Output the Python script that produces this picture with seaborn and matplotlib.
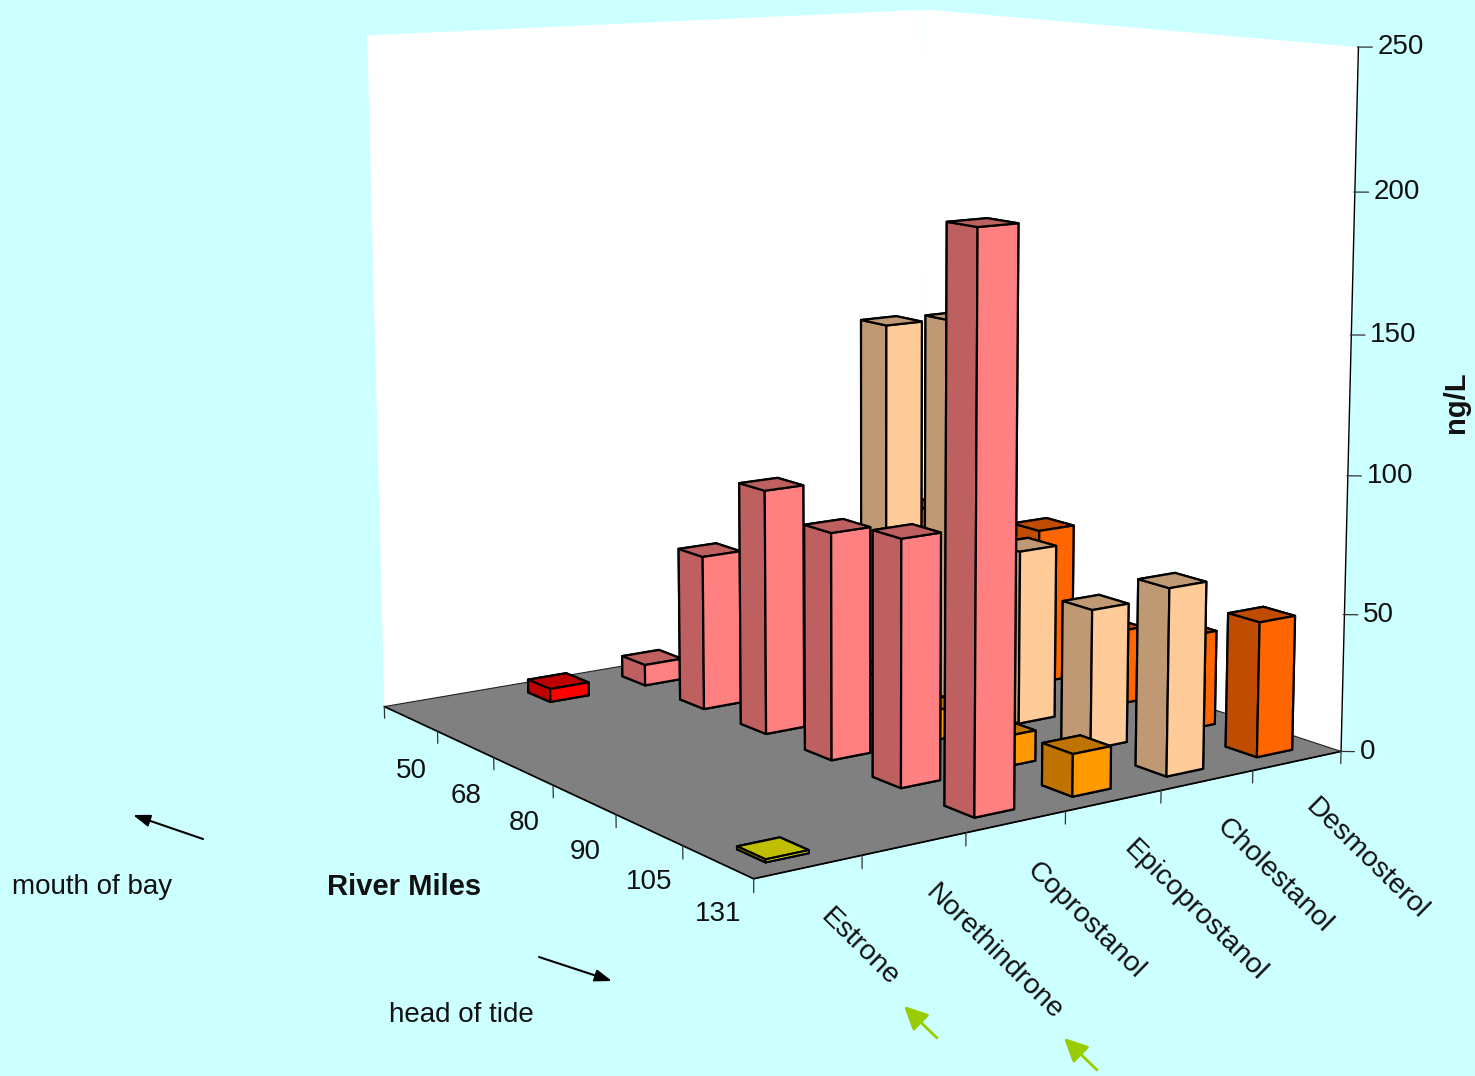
import numpy as np
import pandas as pd
import matplotlib
matplotlib.use("Agg")
import matplotlib.pyplot as plt
from mpl_toolkits.mplot3d import proj3d
import seaborn as sns

# Concentrations (ng/L) per compound, one list per river-mile station.
compounds = ["Estrone", "Norethindrone", "Coprostanol", "Epicoprostanol", "Cholestanol", "Desmosterol"]
river_miles = ["131", "105", "90", "80", "68", "50"]
mile_131 = [1, 0, 198, 15, 67, 49]
mile_105 = [0, 0, 87.5, 11, 51, 35]
mile_90 = [0, 0, 82, 11, 64.5, 28]
mile_80 = [0, 0, 90, 15, 144, 59.5]
mile_68 = [0, 0, 58, 0, 137, 50]
mile_50 = [0, 5, 8, 0, 0, 53]
z_ticks = [0, 50, 100, 150, 200, 250]

front_colors = ["#FFFF00", "#FF0000", "#FF8080", "#FF9900", "#FFCC99", "#FF6600"]
shade_colors = ["#BFBF00", "#BF0000", "#BF6060", "#BF7300", "#BF9973", "#BF4C00"]

table = pd.DataFrame([mile_131, mile_105, mile_90, mile_80, mile_68, mile_50],
                     index=river_miles, columns=compounds)

BG = "#CCFFFF"
W, H = 1475, 1076
sns.set_theme(style="white")
plt.rcParams["font.family"] = ["Liberation Sans", "DejaVu Sans"]

fig = plt.figure(figsize=(W / 100, H / 100), dpi=100, facecolor=BG)
ax = fig.add_subplot(projection="3d", computed_zorder=False)
ax.set_facecolor("none")

# Camera and placement of the chart box on the figure.
scale, cx, cy = 6347.58, 850.64, 390.86
view_lo, view_hi = -0.095, 0.09
side = scale * (view_hi - view_lo)
ax.set_position([(cx + scale * view_lo) / W, (H - (cy - scale * view_lo)) / H, side / W, side / H])
ax.view_init(elev=9.982, azim=-124.996, roll=0.061)
ax.set_proj_type("persp", focal_length=0.5374)
ax.set_box_aspect((1.0009, 1.0021, 1))
n_c, n_r = len(compounds), len(river_miles)
ax.set_xlim(0, n_c)
ax.set_ylim(0, n_r)
ax.set_zlim(0, z_ticks[-1])
ax.grid(False)
ax.set_xticks([])
ax.set_yticks([])
ax.set_zticks([])

# Walls and floor.
for axis, colour in [(ax.xaxis, "white"), (ax.yaxis, "white"), (ax.zaxis, "#808080")]:
    axis.set_pane_color(colour)
    axis.pane.set_edgecolor("none")
ax.zaxis.pane.set_edgecolor("#222222")
ax.zaxis.pane.set_linewidth(0.8)
ax.xaxis.line.set_color("black")
ax.yaxis.line.set_color("black")
ax.zaxis.line.set_color("none")

# Columns, painted from the far corner towards the viewer.
bar_w, bar_d = 0.40, 0.40
inset_c, inset_r = 0.295, 0.28
order = 10
for r in range(n_r - 1, -1, -1):
    for c in range(n_c - 1, -1, -1):
        value = table.iloc[r, c]
        if value <= 0:
            continue
        faces = [shade_colors[c], shade_colors[c], front_colors[c],
                 front_colors[c], shade_colors[c], shade_colors[c]]
        ax.bar3d(c + inset_c, r + inset_r, 0, bar_w, bar_d, value,
                 color=faces, shade=False, edgecolor="black", linewidth=1.6, zorder=order)
        order += 1

top = order + 1
tick_style = dict(color="#333333", lw=0.9, zorder=top)
text_style = dict(color="#111111", transform=ax.transData, zorder=top)
fs = 20
camera = ax.get_proj()


def box_label(x, y, z, text, **kwargs):
    """Write flat text at the page position of a point of the 3D box."""
    xv, yv, _ = proj3d.proj_transform(x, y, z, camera)
    return ax.text2D(xv, yv, text, **text_style, **kwargs)


# Floor ticks drop straight down; value ticks run level with the page.
for c in range(n_c + 1):
    ax.plot([c, c], [0, 0], [0, -4.5], **tick_style)
for r in range(1, n_r + 1):
    ax.plot([0, 0], [r, r], [0, -4.5], **tick_style)
ax.plot([n_c, n_c], [0, 0], [0, z_ticks[-1]], color="black", lw=1.0, zorder=top)
du, dv = 0.00683, 0.00541
for z in z_ticks:
    ax.plot([n_c - 1 * du, n_c + 13 * du], [1 * dv, -13 * dv], [z, z], **tick_style)
    box_label(n_c + 18 * du, -18 * dv, z, str(z), fontsize=fs, ha="left", va="center")

for r, mile in enumerate(river_miles):
    box_label(0, r + 0.5, -17.3 - 0.5 * r, mile, fontsize=fs, ha="center", va="center")

for c, name in enumerate(compounds):
    box_label(c + 0.65, 0, -16.5, name, fontsize=20.5, rotation=-44.5,
              rotation_mode="anchor", ha="left", va="center")


# Captions and direction arrows.
def page(x, y):
    return x / W, 1 - y / H


fig.text(*page(12, 887), "mouth of bay", fontsize=fs, color="#111111", va="center")
fig.text(*page(389, 1015), "head of tide", fontsize=fs, color="#111111", va="center")
fig.text(*page(327, 887), "River Miles", fontsize=21, fontweight="bold", color="#111111", va="center")
fig.text(*page(1456, 402), "ng/L", fontsize=21, fontweight="bold", color="#111111",
         rotation=90, ha="center", va="center")

for tail, tip, colour, style, width in [
        ((203, 839), (133, 815), "black", "-|>,head_length=0.85,head_width=0.3", 1.5),
        ((539, 957), (612, 981), "black", "-|>,head_length=0.85,head_width=0.3", 1.5),
        ((937, 1038), (904, 1006), "#99CC00", "-|>,head_length=1.2,head_width=0.58", 2),
        ((1097, 1070), (1064, 1038), "#99CC00", "-|>,head_length=1.2,head_width=0.58", 2)]:
    ax.annotate("", xy=page(*tip), xytext=page(*tail), xycoords="figure fraction",
                textcoords="figure fraction",
                arrowprops=dict(arrowstyle=style, color=colour, lw=width, shrinkA=0, shrinkB=0))

fig.savefig("out.png", dpi=100, facecolor=BG)
